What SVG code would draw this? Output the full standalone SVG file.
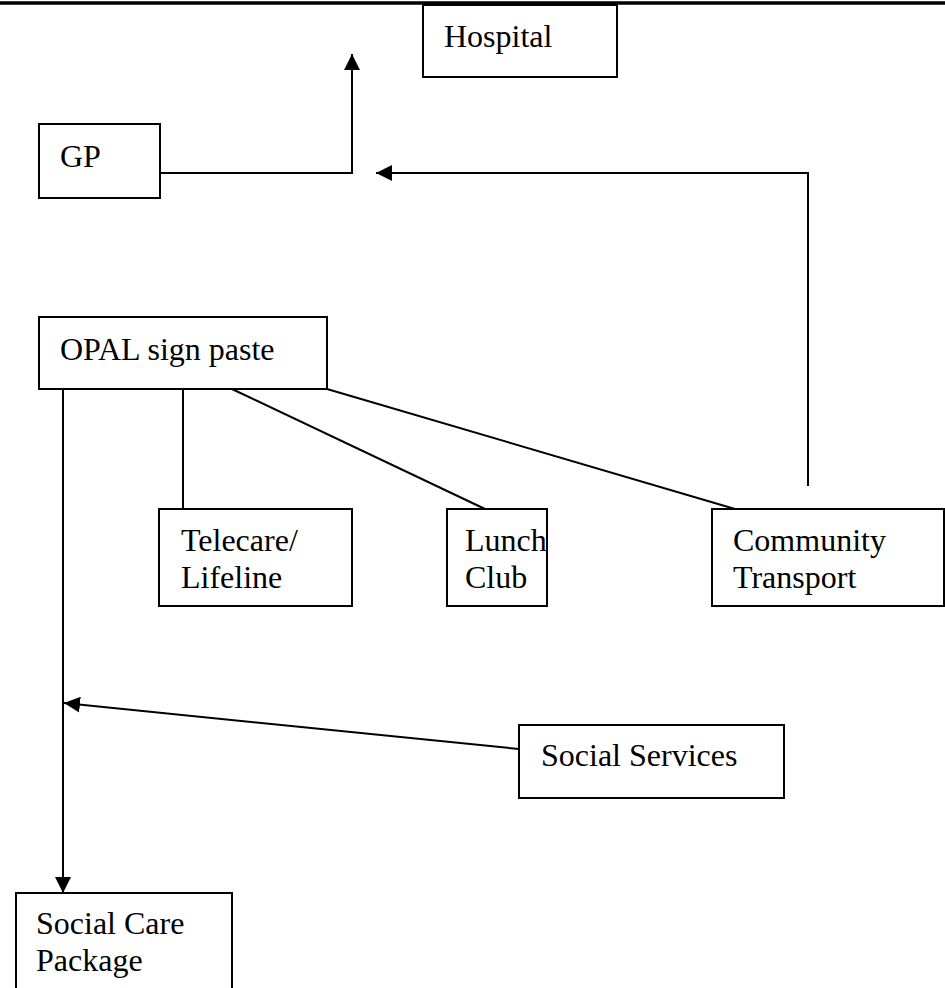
<svg xmlns="http://www.w3.org/2000/svg" width="945" height="988" viewBox="0 0 945 988">
<style>
.box{fill:#fff;stroke:#000;stroke-width:2}
.t{font-family:"Liberation Serif","Times New Roman",serif;font-size:32px;fill:#000}
.c{fill:none;stroke:#000;stroke-width:2}
</style>
<defs>
<marker id="ah" markerUnits="userSpaceOnUse" markerWidth="16" markerHeight="16" viewBox="0 0 16 16" refX="16" refY="8" orient="auto">
<path d="M0,0 L16,8 L0,16 Z" fill="#000"/>
</marker>
</defs>
<rect width="945" height="988" fill="#fff"/>
<line x1="0" y1="3" x2="945" y2="3" stroke="#000" stroke-width="3.5"/>
<g id="connectors">
<polyline class="c" points="160,173 352,173 352,54" marker-end="url(#ah)"/>
<polyline class="c" points="808,486 808,173 376,173" marker-end="url(#ah)"/>
<line class="c" x1="183" y1="389" x2="183" y2="509"/>
<line class="c" x1="232" y1="389" x2="485" y2="509"/>
<line class="c" x1="327" y1="389" x2="735" y2="509"/>
<line class="c" x1="63" y1="389" x2="63" y2="893" marker-end="url(#ah)"/>
<line class="c" x1="519" y1="749" x2="64" y2="703" marker-end="url(#ah)"/>
</g>
<g id="hospital"><rect class="box" x="423" y="5" width="194" height="72"/><text class="t" x="444" y="47">Hospital</text></g>
<g id="gp"><rect class="box" x="39" y="124" width="121" height="74"/><text class="t" x="60" y="167">GP</text></g>
<g id="opal"><rect class="box" x="39" y="317" width="288" height="72"/><text class="t" x="60" y="360">OPAL sign paste</text></g>
<g id="telecare"><rect class="box" x="159" y="509" width="193" height="97"/><text class="t" x="181" y="551">Telecare/</text><text class="t" x="181" y="588">Lifeline</text></g>
<g id="lunch"><rect class="box" x="447" y="509" width="100" height="97"/><text class="t" x="465" y="551">Lunch</text><text class="t" x="465" y="588">Club</text></g>
<g id="community"><rect class="box" x="712" y="509" width="232" height="97"/><text class="t" x="733" y="551">Community</text><text class="t" x="733" y="588">Transport</text></g>
<g id="socialservices"><rect class="box" x="519" y="725" width="265" height="73"/><text class="t" x="541" y="766">Social Services</text></g>
<g id="socialcare"><rect class="box" x="16" y="893" width="216" height="110"/><text class="t" x="36" y="934">Social Care</text><text class="t" x="36" y="971">Package</text></g>
</svg>
